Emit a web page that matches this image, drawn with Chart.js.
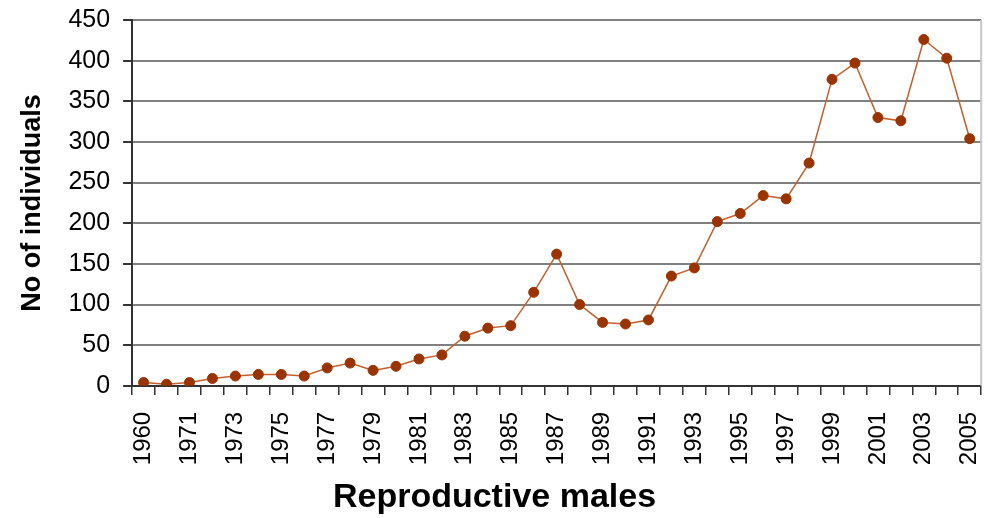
<!DOCTYPE html>
<html>
<head>
<meta charset="utf-8">
<script src="https://cdn.jsdelivr.net/npm/chart.js@4/dist/chart.umd.min.js"></script>
<style>
  html, body { margin: 0; padding: 0; background: #fff; }
  #wrap { width: 989px; height: 518px; position: relative; }
</style>
</head>
<body>
<div id="wrap"><canvas id="chart"></canvas></div>
<script>
// Data
const years = ['1960', '1970', '1971', '1972', '1973', '1974', '1975', '1976', '1977', '1978',
  '1979', '1980', '1981', '1982', '1983', '1984', '1985', '1986', '1987', '1988',
  '1989', '1990', '1991', '1992', '1993', '1994', '1995', '1996', '1997', '1998',
  '1999', '2000', '2001', '2002', '2003', '2004', '2005'];
const males = [4, 2, 4, 9, 12, 14, 14, 12, 22, 28,
  19, 24, 33, 38, 61, 71, 74, 115, 162, 100,
  78, 76, 81, 135, 145, 202, 212, 234, 230, 274,
  377, 397, 330, 326, 426, 403, 304];
const yTicks = [0, 50, 100, 150, 200, 250, 300, 350, 400, 450];

// light right border of the plot area
const rightBorder = {
  id: 'rightBorder',
  afterDraw(chart) {
    const { ctx, chartArea } = chart;
    ctx.save();
    ctx.strokeStyle = '#c8c8c8';
    ctx.lineWidth = 2;
    ctx.beginPath();
    ctx.moveTo(chartArea.right, chartArea.top);
    ctx.lineTo(chartArea.right, chartArea.bottom);
    ctx.stroke();
    ctx.restore();
  }
};

const ctx = document.getElementById('chart').getContext('2d');
const chart = new Chart(ctx, {
  type: 'line',
  data: {
    labels: years,
    datasets: [{
      label: 'Reproductive males',
      data: males,
      borderColor: '#c2602e',
      borderWidth: 1.5,
      pointBackgroundColor: '#993300',
      pointBorderColor: '#993300',
      pointRadius: 5,
      pointBorderWidth: 1,
      tension: 0
    }]
  },
  options: {
    responsive: true,
    maintainAspectRatio: false,
    animation: false,
    layout: { padding: { top: 20, right: 0, left: 0, bottom: 0 } },
    plugins: {
      legend: { display: false },
      tooltip: { enabled: false },
      // chart title sits under the axis, centred on the whole canvas like the original
      title: {
        display: true,
        position: 'bottom',
        text: 'Reproductive males',
        color: '#000',
        font: { family: '"Liberation Sans", Arial, sans-serif', size: 34, weight: 'bold' },
        padding: { top: 12, bottom: 0 }
      }
    },
    scales: {
      x: {
        type: 'category',
        offset: true,
        // long tick slot, only the first 8px drawn, so labels sit lower
        grid: { offset: true, drawOnChartArea: false, drawTicks: true, tickLength: 26, tickBorderDash: [8, 40], tickColor: '#333', lineWidth: 1.5 },
        border: { color: '#333', width: 2 },
        ticks: {
          autoSkip: false,
          maxRotation: 90,
          minRotation: 90,
          padding: 0,
          color: '#000',
          font: { family: '"Liberation Sans", Arial, sans-serif', size: 24, lineHeight: 0.8 },
          callback: (val, i) => (i % 2 === 0 ? years[i] : '')
        }
      },
      y: {
        min: 0,
        max: 450,
        afterBuildTicks: axis => { axis.ticks = yTicks.map(v => ({ value: v })); },
        // y ticks are stroked from the label side, so gap first then the mark
        grid: { color: '#808080', lineWidth: 2, tickLength: 22, tickBorderDash: [0, 13, 10, 100], tickColor: '#333' },
        border: { color: '#333', width: 2 },
        ticks: {
          padding: 0,
          color: '#000',
          font: { family: '"Liberation Sans", Arial, sans-serif', size: 25 }
        },
        title: {
          display: true,
          text: 'No of individuals',
          color: '#000',
          font: { family: '"Liberation Sans", Arial, sans-serif', size: 27, weight: 'bold' },
          padding: { top: 16, bottom: 20 }
        }
      }
    }
  },
  plugins: [rightBorder]
});
</script>
</body>
</html>
